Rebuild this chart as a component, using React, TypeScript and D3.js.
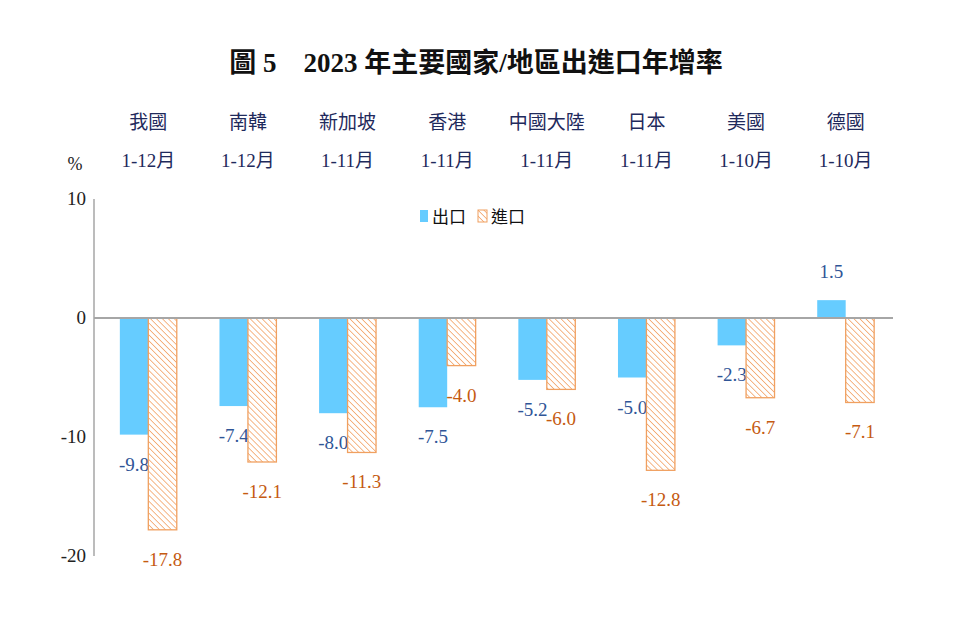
import * as d3 from "d3";

const regions = ["我國", "南韓", "新加坡", "香港", "中國大陸", "日本", "美國", "德國"];
const periods = ["1-12月", "1-12月", "1-11月", "1-11月", "1-11月", "1-11月", "1-10月", "1-10月"];
const exportsGrowth = [-9.8, -7.4, -8.0, -7.5, -5.2, -5.0, -2.3, 1.5];
const importsGrowth = [-17.8, -12.1, -11.3, -4.0, -6.0, -12.8, -6.7, -7.1];
const yTicks = [10, 0, -10, -20];
const seriesKeys = ["export", "import"];
const seriesNames = ["出口", "進口"];

const W = 960;
const H = 640;
const cjk = "'Liberation Serif', 'Noto Sans CJK TC', serif";
const blue = "#66CCFF";
const hatchLine = "#F2A062";
const hatchBorder = "#F0A060";
const blueText = "#2F5597";
const orangeText = "#C55A11";
const navy = "#1F2A5C";

export default function App() {
  const y = d3.scaleLinear().domain([-20, 10]).range([556, 199]);
  const x0 = d3.scaleBand<string>().domain(regions).range([98.5, 895.5]);
  const x1 = d3
    .scaleBand<string>()
    .domain(seriesKeys)
    .range([0, x0.bandwidth()])
    .paddingInner(0)
    .paddingOuter(0.75);

  const rows = regions.map((r, i) => ({
    region: r,
    period: periods[i],
    values: [exportsGrowth[i], importsGrowth[i]],
  }));

  return (
    <svg width={W} height={H} style={{ display: "block", margin: "-8px", background: "#fff" }}>
      <defs>
        <pattern id="hatch" patternUnits="userSpaceOnUse" width="4.2" height="4.2" patternTransform="rotate(-45)">
          <rect width="4.2" height="4.2" fill="#fff" />
          <line x1="0" y1="0" x2="0" y2="4.2" stroke={hatchLine} strokeWidth="1.5" />
        </pattern>
      </defs>

      <text x={476} y={72} textAnchor="middle" fontFamily={cjk} fontWeight="bold" fontSize={27} fill="#111">
        圖 5　2023 年主要國家/地區出進口年增率
      </text>

      {rows.map((d) => {
        const cx = (x0(d.region) ?? 0) + x0.bandwidth() / 2;
        return (
          <g key={d.region} fontFamily={cjk} fontSize={19} fill={navy} textAnchor="middle">
            <text x={cx} y={129}>{d.region}</text>
            <text x={cx} y={167}>{d.period}</text>
          </g>
        );
      })}

      <text x={75} y={170} textAnchor="middle" fontFamily={cjk} fontSize={18} fill="#222">%</text>

      {yTicks.map((t) => (
        <text key={t} x={86} y={y(t) + 6} textAnchor="end" fontFamily={cjk} fontSize={19} fill="#222">
          {t}
        </text>
      ))}

      <line x1={94} x2={94} y1={y(10)} y2={y(-20)} stroke="#A6A6A6" strokeWidth={1.5} />

      {rows.map((d) => (
        <g key={d.region} transform={`translate(${x0(d.region)},0)`}>
          {d.values.map((v, j) => {
            const bx = x1(seriesKeys[j]) ?? 0;
            const top = y(Math.max(0, v));
            const h = Math.abs(y(v) - y(0));
            const isExport = j === 0;
            const cx = bx + x1.bandwidth() / 2;
            const ly = v < 0 ? y(v) + 36 : y(v) - 22;
            return (
              <g key={j}>
                <rect
                  x={bx}
                  y={top}
                  width={x1.bandwidth()}
                  height={h}
                  fill={isExport ? blue : "url(#hatch)"}
                  stroke={isExport ? "none" : hatchBorder}
                  strokeWidth={isExport ? 0 : 1.3}
                />
                <text
                  x={cx}
                  y={ly}
                  textAnchor="middle"
                  fontFamily={cjk}
                  fontSize={19}
                  fill={isExport ? blueText : orangeText}
                >
                  {v.toFixed(1)}
                </text>
              </g>
            );
          })}
        </g>
      ))}

      <line x1={94} x2={893} y1={y(0)} y2={y(0)} stroke="#A6A6A6" strokeWidth={2} />

      <g fontFamily={cjk} fontSize={17} fill="#111">
        <rect x={420} y={210} width={8} height={12} fill={blue} />
        <text x={432} y={223}>{seriesNames[0]}</text>
        <rect x={478} y={210} width={9} height={12} fill="url(#hatch)" stroke={hatchBorder} strokeWidth={1} />
        <text x={491} y={223}>{seriesNames[1]}</text>
      </g>
    </svg>
  );
}
